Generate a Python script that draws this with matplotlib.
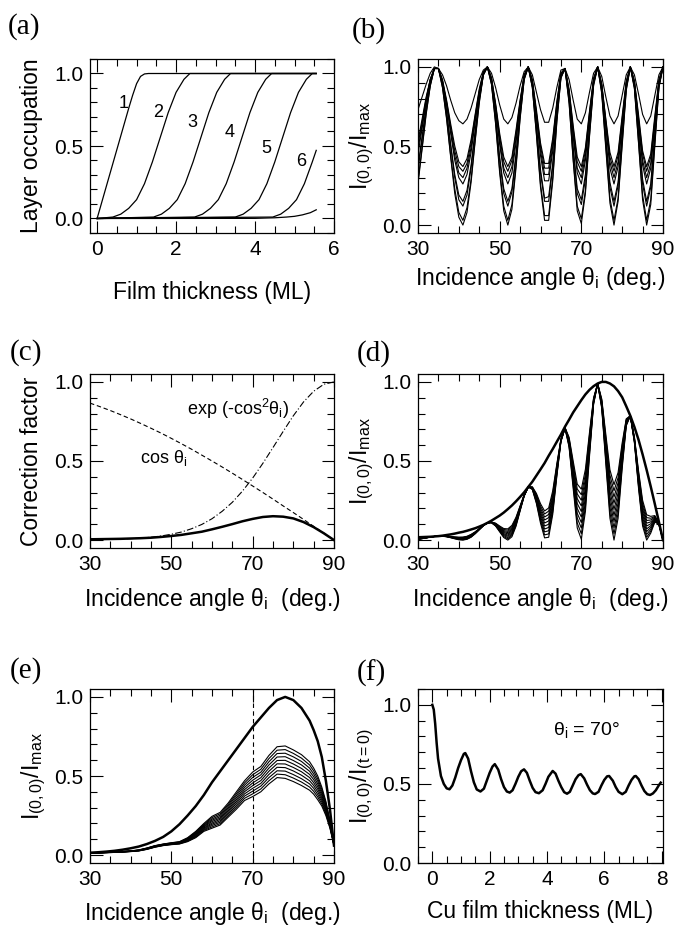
import numpy as np
import matplotlib
matplotlib.use("Agg")
import matplotlib.pyplot as plt
from matplotlib.ticker import MultipleLocator, FixedLocator

plt.rcParams['font.family'] = 'Liberation Sans'
plt.rcParams['mathtext.fontset'] = 'custom'
plt.rcParams['mathtext.rm'] = 'Liberation Sans'
plt.rcParams['mathtext.it'] = 'Liberation Sans:italic'
plt.rcParams['axes.linewidth'] = 0.9

# ---------------- (a) layer occupation vs film thickness ----------------
layer_x = [
    [0, 0.2, 0.4, 0.6, 0.8, 0.9, 1.0, 1.1, 1.2, 1.3, 5.55],
    [0, 0.4, 0.6, 0.8, 1.0, 1.2, 1.4, 1.6, 1.8, 2.0, 2.2, 2.35, 5.55],
    [0, 1.43, 1.63, 1.83, 2.03, 2.23, 2.43, 2.63, 2.83, 3.03, 3.23, 3.38, 5.55],
    [0, 2.47, 2.67, 2.87, 3.07, 3.27, 3.47, 3.67, 3.87, 4.07, 4.27, 4.42, 5.55],
    [0, 3.5, 3.7, 3.9, 4.1, 4.3, 4.5, 4.7, 4.9, 5.1, 5.3, 5.45, 5.55],
    [0, 4.45, 4.65, 4.85, 5.05, 5.25, 5.45, 5.55],
    [0, 4.0, 4.5, 4.8, 5.0, 5.2, 5.4, 5.55],
]
layer_y = [
    [0, 0.19, 0.38, 0.57, 0.76, 0.85, 0.93, 0.98, 0.997, 1.0, 1.0],
    [0, 0.01, 0.03, 0.07, 0.13, 0.24, 0.39, 0.56, 0.73, 0.87, 0.96, 1.0, 1.0],
    [0, 0.01, 0.03, 0.07, 0.13, 0.24, 0.39, 0.56, 0.73, 0.87, 0.96, 1.0, 1.0],
    [0, 0.01, 0.03, 0.07, 0.13, 0.24, 0.39, 0.56, 0.73, 0.87, 0.96, 1.0, 1.0],
    [0, 0.01, 0.03, 0.07, 0.13, 0.24, 0.39, 0.56, 0.73, 0.87, 0.96, 1.0, 1.0],
    [0, 0.01, 0.03, 0.07, 0.13, 0.24, 0.39, 0.47],
    [0, 0.001, 0.005, 0.01, 0.015, 0.025, 0.04, 0.06],
]
layer_names = ['1', '2', '3', '4', '5', '6']
layer_label_x = [0.66, 1.55, 2.42, 3.35, 4.28, 5.16]
layer_label_y = [0.79, 0.73, 0.66, 0.59, 0.48, 0.39]

# ---------------- (b) normalised intensity, 1 deg steps ----------------
angle = list(range(30, 91))
b_curves = [
    [0.73, 0.81, 0.89, 0.96, 1.00, 0.99, 0.95, 0.88, 0.79, 0.71,
     0.66, 0.64, 0.67, 0.74, 0.83, 0.92, 0.98, 1.00, 0.96, 0.87,
     0.76, 0.67, 0.64, 0.68, 0.77, 0.88, 0.97, 1.00, 0.95, 0.84,
     0.73, 0.65, 0.65, 0.74, 0.87, 0.98, 0.99, 0.92, 0.79, 0.67,
     0.64, 0.71, 0.84, 0.96, 1.00, 0.94, 0.81, 0.69, 0.64, 0.69,
     0.82, 0.95, 1.00, 0.95, 0.83, 0.70, 0.64, 0.69, 0.82, 0.95, 1.00],
    [0.53, 0.67, 0.81, 0.92, 0.99, 0.99, 0.92, 0.79, 0.64, 0.50,
     0.40, 0.37, 0.42, 0.54, 0.70, 0.86, 0.97, 1.00, 0.93, 0.77,
     0.58, 0.43, 0.37, 0.43, 0.60, 0.79, 0.95, 1.00, 0.92, 0.73,
     0.52, 0.39, 0.39, 0.55, 0.78, 0.96, 0.99, 0.86, 0.63, 0.43,
     0.37, 0.49, 0.72, 0.93, 1.00, 0.89, 0.67, 0.46, 0.37, 0.46,
     0.69, 0.91, 1.00, 0.91, 0.70, 0.47, 0.37, 0.45, 0.69, 0.92, 1.00],
    [0.51, 0.65, 0.80, 0.92, 0.99, 0.99, 0.91, 0.78, 0.62, 0.47,
     0.37, 0.34, 0.39, 0.52, 0.69, 0.85, 0.96, 1.00, 0.93, 0.76,
     0.56, 0.40, 0.34, 0.41, 0.58, 0.78, 0.95, 1.00, 0.91, 0.71,
     0.50, 0.36, 0.36, 0.53, 0.77, 0.96, 0.99, 0.85, 0.61, 0.40,
     0.34, 0.47, 0.71, 0.92, 1.00, 0.89, 0.66, 0.43, 0.34, 0.44,
     0.67, 0.90, 1.00, 0.91, 0.68, 0.45, 0.34, 0.43, 0.67, 0.91, 1.00],
    [0.48, 0.63, 0.79, 0.92, 0.99, 0.99, 0.91, 0.77, 0.60, 0.44,
     0.33, 0.30, 0.36, 0.49, 0.67, 0.84, 0.96, 1.00, 0.92, 0.75,
     0.53, 0.36, 0.30, 0.37, 0.55, 0.77, 0.94, 1.00, 0.91, 0.70,
     0.47, 0.32, 0.32, 0.50, 0.75, 0.95, 0.99, 0.84, 0.58, 0.36,
     0.30, 0.44, 0.69, 0.92, 1.00, 0.88, 0.64, 0.40, 0.30, 0.40,
     0.65, 0.90, 1.00, 0.90, 0.66, 0.41, 0.30, 0.39, 0.65, 0.91, 1.00],
    [0.45, 0.61, 0.78, 0.91, 0.99, 0.99, 0.90, 0.76, 0.58, 0.41,
     0.30, 0.26, 0.32, 0.46, 0.65, 0.83, 0.96, 1.00, 0.92, 0.73,
     0.51, 0.33, 0.26, 0.33, 0.52, 0.76, 0.94, 1.00, 0.90, 0.68,
     0.44, 0.28, 0.28, 0.47, 0.74, 0.95, 0.99, 0.83, 0.56, 0.33,
     0.26, 0.41, 0.67, 0.91, 1.00, 0.88, 0.62, 0.36, 0.26, 0.37,
     0.63, 0.89, 1.00, 0.90, 0.64, 0.38, 0.26, 0.36, 0.63, 0.90, 1.00],
    [0.37, 0.56, 0.75, 0.90, 0.99, 0.99, 0.89, 0.72, 0.51, 0.32,
     0.19, 0.15, 0.22, 0.38, 0.60, 0.80, 0.95, 1.00, 0.91, 0.69,
     0.43, 0.23, 0.15, 0.23, 0.45, 0.72, 0.93, 1.00, 0.89, 0.63,
     0.35, 0.17, 0.18, 0.39, 0.70, 0.94, 0.99, 0.81, 0.49, 0.23,
     0.16, 0.32, 0.62, 0.90, 1.00, 0.86, 0.56, 0.27, 0.15, 0.27,
     0.58, 0.88, 1.00, 0.88, 0.59, 0.29, 0.15, 0.26, 0.58, 0.89, 1.00],
    [0.35, 0.54, 0.74, 0.89, 0.99, 0.99, 0.89, 0.71, 0.50, 0.30,
     0.16, 0.12, 0.19, 0.36, 0.58, 0.80, 0.95, 1.00, 0.90, 0.68,
     0.41, 0.20, 0.12, 0.21, 0.43, 0.71, 0.93, 1.00, 0.88, 0.62,
     0.33, 0.15, 0.15, 0.37, 0.69, 0.94, 0.99, 0.80, 0.48, 0.20,
     0.13, 0.29, 0.61, 0.90, 1.00, 0.85, 0.54, 0.24, 0.12, 0.25,
     0.56, 0.87, 1.00, 0.88, 0.58, 0.26, 0.12, 0.24, 0.56, 0.88, 1.00],
    [0.28, 0.49, 0.71, 0.88, 0.99, 0.99, 0.87, 0.68, 0.44, 0.23,
     0.08, 0.03, 0.11, 0.29, 0.54, 0.78, 0.95, 1.00, 0.89, 0.65,
     0.35, 0.12, 0.03, 0.13, 0.38, 0.68, 0.92, 1.00, 0.87, 0.58,
     0.26, 0.06, 0.06, 0.30, 0.66, 0.93, 0.99, 0.78, 0.42, 0.12,
     0.04, 0.22, 0.57, 0.89, 1.00, 0.84, 0.50, 0.17, 0.03, 0.17,
     0.52, 0.86, 1.00, 0.87, 0.53, 0.19, 0.03, 0.16, 0.52, 0.87, 1.00],
    [0.26, 0.48, 0.70, 0.88, 0.99, 0.99, 0.87, 0.67, 0.43, 0.20,
     0.05, 0.00, 0.08, 0.27, 0.53, 0.77, 0.95, 1.00, 0.89, 0.64,
     0.33, 0.09, 0.00, 0.10, 0.36, 0.67, 0.92, 1.00, 0.87, 0.57,
     0.24, 0.03, 0.03, 0.28, 0.65, 0.93, 0.99, 0.77, 0.41, 0.09,
     0.01, 0.20, 0.56, 0.88, 1.00, 0.83, 0.48, 0.14, 0.00, 0.15,
     0.50, 0.85, 1.00, 0.86, 0.52, 0.16, 0.00, 0.13, 0.50, 0.87, 1.00],
]

# ---------------- (c) correction factors, 2.5 deg steps ----------------
c_angle = [30, 32.5, 35, 37.5, 40, 42.5, 45, 47.5, 50, 52.5, 55, 57.5, 60,
           62.5, 65, 67.5, 70, 72.5, 75, 77.5, 80, 82.5, 85, 87.5, 90]
c_cos = [0.866, 0.843, 0.819, 0.793, 0.766, 0.737, 0.707, 0.676, 0.643, 0.609,
         0.574, 0.537, 0.500, 0.462, 0.423, 0.383, 0.342, 0.301, 0.259, 0.216,
         0.174, 0.131, 0.087, 0.044, 0.0]
c_exp = [0.0025, 0.0034, 0.0047, 0.0065, 0.0092, 0.0129, 0.018, 0.026, 0.037, 0.051,
         0.072, 0.099, 0.135, 0.182, 0.239, 0.31, 0.392, 0.485, 0.585, 0.687,
         0.786, 0.873, 0.941, 0.985, 1.0]
c_total = [0.005, 0.006, 0.007, 0.008, 0.010, 0.012, 0.015, 0.020, 0.026, 0.033,
           0.043, 0.053, 0.068, 0.084, 0.101, 0.119, 0.134, 0.146, 0.151, 0.148,
           0.137, 0.114, 0.082, 0.043, 0.0]

# ---------------- (d) corrected intensity, 1 deg steps ----------------
d_env = [0.018, 0.019, 0.020, 0.021, 0.023, 0.025, 0.028, 0.032, 0.036, 0.041,
         0.047, 0.052, 0.059, 0.067, 0.075, 0.085, 0.096, 0.109, 0.123, 0.139,
         0.155, 0.174, 0.196, 0.219, 0.245, 0.273, 0.302, 0.336, 0.369, 0.408,
         0.447, 0.487, 0.533, 0.576, 0.622, 0.667, 0.717, 0.761, 0.807, 0.846,
         0.885, 0.921, 0.950, 0.973, 0.990, 1.0, 1.0, 0.990, 0.972, 0.942,
         0.903, 0.846, 0.786, 0.715, 0.635, 0.542, 0.443, 0.338, 0.228, 0.115, 0.0]
# one row per angle (30..90), one column per curve
d_bundle = [
    [.005, .005, .006, .006, .007, .007, .008, .008, .009, .009],
    [.009, .009, .010, .010, .011, .011, .011, .012, .012, .013],
    [.014, .014, .014, .015, .015, .015, .015, .016, .016, .016],
    [.018, .019, .019, .019, .019, .019, .019, .019, .019, .019],
    [.023, .023, .023, .023, .023, .023, .023, .023, .023, .023],
    [.025, .025, .025, .025, .025, .025, .025, .025, .025, .025],
    [.024, .025, .025, .025, .025, .025, .025, .025, .025, .026],
    [.021, .022, .022, .023, .023, .023, .024, .024, .025, .025],
    [.015, .016, .017, .018, .019, .020, .020, .021, .022, .023],
    [.008, .010, .011, .012, .014, .015, .016, .017, .019, .020],
    [.002, .004, .006, .008, .009, .011, .013, .015, .017, .018],
    [.000, .002, .004, .006, .008, .010, .012, .015, .017, .019],
    [.005, .007, .009, .011, .013, .016, .018, .020, .022, .024],
    [.018, .020, .022, .024, .026, .028, .030, .032, .034, .036],
    [.040, .041, .042, .044, .045, .047, .048, .049, .051, .052],
    [.065, .066, .067, .068, .069, .069, .070, .071, .072, .072],
    [.091, .091, .091, .092, .092, .092, .092, .092, .093, .093],
    [.109, .109, .109, .109, .109, .109, .109, .109, .109, .109],
    [.109, .110, .111, .111, .112, .112, .113, .113, .114, .114],
    [.089, .091, .093, .095, .097, .099, .101, .103, .105, .107],
    [.052, .056, .060, .064, .068, .072, .076, .081, .085, .089],
    [.016, .022, .029, .035, .041, .048, .054, .060, .067, .073],
    [.000, .008, .016, .024, .031, .039, .047, .055, .063, .071],
    [.021, .029, .037, .045, .053, .061, .069, .077, .085, .093],
    [.087, .094, .100, .106, .113, .119, .125, .131, .138, .144],
    [.184, .187, .191, .194, .198, .202, .205, .209, .212, .216],
    [.278, .279, .280, .281, .282, .283, .284, .285, .286, .287],
    [.336, .336, .336, .336, .336, .336, .336, .336, .336, .336],
    [.320, .322, .324, .326, .328, .330, .332, .333, .335, .337],
    [.231, .238, .245, .253, .260, .267, .274, .281, .288, .295],
    [.107, .121, .134, .148, .162, .175, .189, .202, .216, .230],
    [.014, .033, .052, .070, .089, .108, .127, .146, .165, .184],
    [.018, .039, .059, .080, .100, .121, .142, .162, .183, .203],
    [.163, .180, .196, .213, .229, .246, .262, .279, .295, .312],
    [.403, .412, .421, .429, .438, .447, .456, .464, .473, .482],
    [.622, .624, .626, .628, .629, .631, .633, .635, .637, .638],
    [.708, .708, .708, .709, .709, .709, .710, .710, .711, .711],
    [.587, .594, .601, .608, .615, .622, .629, .636, .643, .650],
    [.327, .346, .365, .384, .404, .423, .442, .461, .480, .500],
    [.077, .108, .139, .169, .200, .231, .262, .292, .323, .354],
    [.005, .040, .076, .111, .146, .181, .216, .252, .287, .322],
    [.181, .211, .241, .270, .300, .329, .359, .388, .418, .448],
    [.530, .547, .564, .580, .597, .614, .631, .648, .664, .681],
    [.858, .863, .867, .872, .877, .881, .886, .890, .895, .899],
    [.989, .989, .989, .989, .989, .989, .989, .989, .989, .989],
    [.832, .839, .845, .852, .859, .866, .872, .879, .886, .892],
    [.481, .502, .523, .543, .564, .585, .606, .626, .647, .668],
    [.139, .173, .207, .241, .275, .309, .343, .377, .411, .445],
    [.000, .039, .078, .117, .156, .194, .233, .272, .311, .350],
    [.138, .170, .202, .234, .266, .298, .331, .363, .395, .427],
    [.452, .470, .488, .506, .524, .542, .560, .578, .596, .614],
    [.722, .727, .732, .737, .742, .747, .752, .757, .762, .767],
    [.786, .786, .786, .786, .786, .786, .786, .786, .786, .786],
    [.616, .620, .624, .628, .632, .636, .640, .644, .647, .651],
    [.330, .342, .354, .366, .379, .391, .403, .415, .427, .440],
    [.089, .107, .125, .143, .161, .180, .198, .216, .234, .252],
    [.000, .018, .036, .054, .071, .089, .107, .124, .142, .160],
    [.044, .056, .068, .080, .091, .103, .115, .127, .138, .150],
    [.114, .119, .123, .128, .132, .137, .141, .146, .150, .155],
    [.100, .100, .101, .102, .102, .103, .104, .104, .105, .106],
    [0, 0, 0, 0, 0, 0, 0, 0, 0, 0],
]

# ---------------- (e) averaged intensity ----------------
e_angle = [30, 32, 34, 36, 38, 40, 42, 44, 46, 48, 50, 52, 54, 56, 58, 60, 62,
           64, 66, 68, 70, 72, 74, 76, 78, 80, 82, 84, 85, 86, 87, 88, 89, 90]
e_env = [.015, .018, .022, .027, .034, .043, .054, .07, .09, .115, .15, .195,
         .25, .31, .38, .46, .53, .60, .67, .74, .81, .87, .93, .98, 1.0, .98,
         .93, .85, .79, .72, .62, .47, .29, .06]
e_bundle = [
    [.012, .012, .013, .013, .013, .014, .014, .014, .015, .015],
    [.013, .013, .014, .014, .014, .015, .015, .015, .016, .016],
    [.015, .015, .016, .016, .016, .017, .017, .017, .018, .018],
    [.017, .017, .018, .018, .018, .019, .019, .019, .020, .020],
    [.019, .019, .020, .020, .021, .021, .022, .022, .023, .023],
    [.022, .023, .023, .024, .024, .025, .025, .026, .026, .027],
    [.026, .027, .028, .028, .029, .030, .031, .031, .032, .033],
    [.036, .037, .038, .039, .040, .041, .042, .043, .044, .045],
    [.050, .051, .052, .053, .054, .056, .057, .058, .059, .060],
    [.060, .061, .062, .063, .064, .066, .067, .068, .069, .070],
    [.066, .067, .069, .070, .071, .073, .074, .075, .077, .078],
    [.070, .072, .073, .075, .077, .078, .080, .082, .083, .085],
    [.085, .088, .091, .093, .096, .099, .102, .104, .107, .110],
    [.110, .114, .119, .123, .128, .132, .137, .141, .146, .150],
    [.150, .156, .161, .167, .172, .178, .183, .189, .194, .200],
    [.170, .178, .187, .195, .203, .212, .220, .228, .237, .245],
    [.190, .199, .208, .217, .226, .234, .243, .252, .261, .270],
    [.240, .250, .260, .270, .280, .290, .300, .310, .320, .330],
    [.290, .302, .314, .327, .339, .351, .363, .376, .388, .400],
    [.345, .359, .373, .387, .401, .414, .428, .442, .456, .470],
    [.370, .387, .404, .422, .439, .456, .473, .491, .508, .525],
    [.400, .418, .436, .453, .471, .489, .507, .524, .542, .560],
    [.450, .470, .490, .510, .530, .550, .570, .590, .610, .630],
    [.490, .512, .533, .555, .577, .598, .620, .642, .663, .685],
    [.485, .508, .531, .553, .576, .599, .622, .644, .667, .690],
    [.465, .487, .509, .532, .554, .576, .598, .621, .643, .665],
    [.440, .462, .483, .505, .527, .548, .570, .592, .613, .635],
    [.410, .430, .450, .470, .490, .510, .530, .550, .570, .590],
    [.385, .403, .422, .440, .458, .477, .495, .513, .532, .550],
    [.350, .367, .383, .400, .417, .433, .450, .467, .483, .500],
    [.310, .323, .337, .350, .363, .377, .390, .403, .417, .430],
    [.250, .260, .270, .280, .290, .300, .310, .320, .330, .340],
    [.170, .176, .181, .187, .192, .198, .203, .209, .214, .220],
    [.060, .061, .062, .063, .064, .066, .067, .068, .069, .070],
]
e_cut_angle = 70

# ---------------- (f) intensity vs Cu thickness at 70 deg ----------------
f_thick = [0.0, 0.05, 0.1, 0.15, 0.2, 0.3, 0.4, 0.5, 0.6, 0.7, 0.8, 0.9, 1.0,
           1.1, 1.15, 1.25, 1.35, 1.45, 1.55, 1.68, 1.8, 1.9, 2.0, 2.1, 2.18,
           2.3, 2.4, 2.5, 2.6, 2.7, 2.8, 2.9, 3.0, 3.1, 3.2, 3.3, 3.4, 3.5,
           3.6, 3.72, 3.85, 3.95, 4.05, 4.2, 4.3, 4.4, 4.5, 4.6, 4.7, 4.8,
           4.9, 5.0, 5.1, 5.18, 5.3, 5.4, 5.5, 5.6, 5.68, 5.8, 5.9, 6.0, 6.1,
           6.17, 6.3, 6.4, 6.5, 6.63, 6.75, 6.85, 6.95, 7.05, 7.1, 7.2, 7.3,
           7.4, 7.5, 7.6, 7.7, 7.8, 7.9, 7.97]
f_int = [1.0, 0.97, 0.88, 0.76, 0.66, 0.55, 0.5, 0.472, 0.466, 0.49, 0.54,
         0.6, 0.65, 0.69, 0.695, 0.66, 0.58, 0.51, 0.465, 0.452, 0.47, 0.52,
         0.57, 0.61, 0.625, 0.59, 0.53, 0.48, 0.452, 0.445, 0.46, 0.5, 0.545,
         0.58, 0.592, 0.57, 0.52, 0.475, 0.448, 0.441, 0.46, 0.5, 0.545,
         0.582, 0.565, 0.52, 0.48, 0.448, 0.438, 0.45, 0.49, 0.53, 0.555,
         0.562, 0.535, 0.495, 0.46, 0.44, 0.436, 0.45, 0.49, 0.525, 0.548,
         0.55, 0.52, 0.48, 0.45, 0.435, 0.45, 0.49, 0.525, 0.548, 0.55, 0.53,
         0.49, 0.455, 0.435, 0.43, 0.44, 0.46, 0.49, 0.508]

# ---------------- figure ----------------
W, H = 679, 930
fig = plt.figure(figsize=(W / 100, H / 100), dpi=100)


def panel(left, top, right, bottom):
    return fig.add_axes([left / W, 1 - bottom / H, (right - left) / W, (bottom - top) / H])


def style(ax, xmajor, xminor, yminor=0.1):
    ax.xaxis.set_major_locator(FixedLocator(xmajor))
    ax.xaxis.set_minor_locator(MultipleLocator(xminor))
    ax.yaxis.set_major_locator(MultipleLocator(0.5))
    ax.yaxis.set_minor_locator(MultipleLocator(yminor))
    ax.tick_params(which='both', direction='in', top=True, right=True,
                   labelsize=15, width=0.8, pad=5)
    ax.tick_params(which='major', length=9)
    ax.tick_params(which='minor', length=5)


ax_a = panel(90, 59, 334, 233)
ax_b = panel(418, 59, 663, 233)
ax_c = panel(90, 374, 334, 548)
ax_d = panel(418, 374, 663, 548)
ax_e = panel(90, 689, 334, 863)
ax_f = panel(418, 689, 663, 863)

lab = 16.5
ylab_I = r'$\mathregular{I_{(0,0)}/I_{max}}$'
xlab_ang = r'Incidence angle $\mathregular{\theta_i}$  (deg.)'

# (a)
for xs, ys in zip(layer_x, layer_y):
    ax_a.plot(xs, ys, 'k-', lw=0.9)
for name, lx, ly in zip(layer_names, layer_label_x, layer_label_y):
    ax_a.text(lx, ly, name, fontsize=13, ha='center', va='center')
ax_a.set_xlim(-0.18, 6)
ax_a.set_ylim(-0.1, 1.1)
style(ax_a, [0, 2, 4, 6], 0.5)
ax_a.set_xlabel('Film thickness (ML)', fontsize=lab, labelpad=16)
ax_a.set_ylabel('Layer occupation', fontsize=lab, labelpad=8)

# (b)
for ys in b_curves:
    ax_b.plot(angle, ys, 'k-', lw=0.8)
ax_b.set_xlim(30, 90)
ax_b.set_ylim(-0.05, 1.05)
style(ax_b, [30, 50, 70, 90], 5)
ax_b.set_xlabel(r'Incidence angle $\mathregular{\theta_i}$ (deg.)', fontsize=lab, labelpad=4)
ax_b.set_ylabel(ylab_I, fontsize=lab, labelpad=4)

# (c)
ax_c.plot(c_angle, c_cos, 'k', lw=0.8, ls=(0, (4, 2.5)))
ax_c.plot(c_angle, c_exp, 'k', lw=0.8, ls=(0, (6, 2, 1, 2)))
ax_c.plot(c_angle, c_total, 'k-', lw=1.8)
ax_c.text(66.5, 0.83, r'exp (-cos$\mathregular{^2\theta_i}$)', fontsize=13,
          ha='center', va='center')
ax_c.text(48, 0.52, r'cos $\mathregular{\theta_i}$', fontsize=13,
          ha='center', va='center')
ax_c.set_xlim(30, 90)
ax_c.set_ylim(-0.05, 1.05)
style(ax_c, [30, 50, 70, 90], 5)
ax_c.set_xlabel(xlab_ang, fontsize=lab, labelpad=9)
ax_c.set_ylabel('Correction factor', fontsize=lab, labelpad=8)

# (d)
ax_d.plot(angle, np.array(d_bundle), 'k-', lw=0.8)
ax_d.plot(angle, d_env, 'k-', lw=1.8)
ax_d.set_xlim(30, 90)
ax_d.set_ylim(-0.05, 1.05)
style(ax_d, [30, 50, 70, 90], 5)
ax_d.set_xlabel(xlab_ang, fontsize=lab, labelpad=9)
ax_d.set_ylabel(ylab_I, fontsize=lab, labelpad=4)

# (e)
ax_e.plot(e_angle, np.array(e_bundle), 'k-', lw=0.8)
ax_e.plot(e_angle, e_env, 'k-', lw=1.8)
ax_e.axvline(e_cut_angle, color='k', lw=0.8, ls=(0, (4, 3)))
ax_e.set_xlim(30, 90)
ax_e.set_ylim(-0.05, 1.05)
style(ax_e, [30, 50, 70, 90], 5)
ax_e.set_xlabel(xlab_ang, fontsize=lab, labelpad=8)
ax_e.set_ylabel(ylab_I, fontsize=lab, labelpad=4)

# (f)
ax_f.plot(f_thick, f_int, 'k-', lw=1.8)
ax_f.text(5.37, 0.84, r'$\mathregular{\theta_i}$ = 70°', fontsize=14,
          ha='center', va='center')
ax_f.set_xlim(-0.5, 8.05)
ax_f.set_ylim(0, 1.1)
style(ax_f, [0, 2, 4, 6, 8], 0.5)
ax_f.set_xlabel('Cu film thickness (ML)', fontsize=lab, labelpad=8)
ax_f.set_ylabel(r'$\mathregular{I_{(0,0)}/I_{(t=0)}}$', fontsize=lab, labelpad=4)

# panel letters
for txt, x, y in [('(a)', 8, 27), ('(b)', 352, 31), ('(c)', 10, 353),
                  ('(d)', 357, 354), ('(e)', 10, 671), ('(f)', 357, 673)]:
    fig.text(x / W, 1 - y / H, txt, fontsize=21, family='Liberation Serif',
             ha='left', va='center')

fig.savefig('out.png', dpi=100)
